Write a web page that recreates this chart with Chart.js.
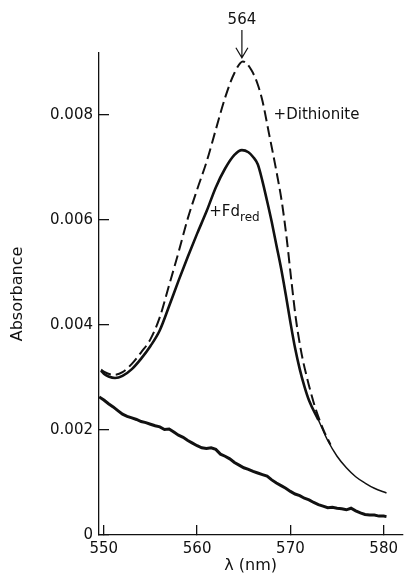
<!DOCTYPE html>
<html>
<head>
<meta charset="utf-8">
<script src="https://cdn.jsdelivr.net/npm/chart.js@4"></script>
<style>
  body { margin: 0; background: #fff; }
  canvas { display: block; }
</style>
</head>
<body>
<canvas id="spectrumChart" width="413" height="576"></canvas>
<script>
// wavelengths (nm) and absorbance
const dithLambda = [549.7, 550, 551, 552, 553, 554, 555, 556, 557, 558, 559, 560, 561, 562, 563, 564, 564.9,
  565.8, 566.5, 567, 567.7, 568.4, 569.1, 569.6, 570.1, 570.6, 571.2, 571.8, 572.5, 573, 573.6, 574.3];
const dithAbs = [0.00315, 0.00311, 0.00305, 0.00310, 0.00326, 0.00348, 0.00373, 0.00415, 0.00476, 0.00538, 0.00603,
  0.00658, 0.00710, 0.00772, 0.00833, 0.00880, 0.00902,
  0.00886, 0.00858, 0.00827, 0.00765, 0.00702, 0.00632, 0.00565, 0.00485, 0.00410, 0.00345, 0.00298, 0.00252,
  0.00225, 0.00198, 0.00172];

const fdLambda = [549.7, 550, 550.5, 551.2, 552, 553, 554, 555, 556, 557, 558, 559, 560, 561, 562, 563, 564, 564.8,
  565.5, 566, 566.5, 567, 567.5, 568, 568.5, 569, 569.5, 570, 570.5, 571, 571.5, 572, 573, 574, 575, 576, 577,
  578, 579, 580.3];
const fdAbs = [0.00313, 0.00307, 0.00302, 0.00299, 0.00303, 0.00316, 0.00336, 0.00360, 0.00390, 0.00436, 0.00484,
  0.00530, 0.00574, 0.00616, 0.00662, 0.00698, 0.00724, 0.00733,
  0.00729, 0.00720, 0.00706, 0.00674, 0.00636, 0.00596, 0.00552, 0.00508, 0.00458, 0.00405, 0.00356, 0.00316,
  0.00283, 0.00256, 0.00219, 0.00180, 0.00150, 0.00128, 0.00111, 0.00099, 0.00089, 0.00080];

const baseLambda = [549.5, 550, 550.5, 551, 551.5, 552, 552.5, 553, 553.5, 554, 554.5, 555, 555.5, 556, 556.5, 557,
  557.5, 558, 558.5, 559, 559.5, 560, 560.5, 561, 561.5, 562, 562.5, 563, 563.5, 564, 564.5, 565, 565.5, 566,
  566.5, 567, 567.5, 568, 568.5, 569, 569.5, 570, 570.5, 571, 571.5, 572, 572.5, 573, 573.5, 574, 574.5, 575,
  575.5, 576, 576.5, 577, 577.5, 578, 578.5, 579, 579.5, 580, 580.3];
const baseAbs = [0.00263, 0.00257, 0.00250, 0.00244, 0.00237, 0.00230, 0.00226, 0.00223, 0.00220, 0.00216, 0.00214,
  0.00211, 0.00208, 0.00206, 0.00201, 0.00202, 0.00196, 0.00190, 0.00186, 0.00180, 0.00175, 0.00170, 0.00166,
  0.00165, 0.00166, 0.00163, 0.00154, 0.00150, 0.00145, 0.00138, 0.00133, 0.00128, 0.00125, 0.00121, 0.00118,
  0.00115, 0.00112, 0.00105, 0.00099, 0.00094, 0.00089, 0.00083, 0.00078, 0.00075, 0.00070, 0.00067, 0.00062,
  0.00058, 0.00055, 0.00052, 0.00053, 0.00051, 0.00050, 0.00048, 0.00051, 0.00046, 0.00042, 0.00039, 0.00038,
  0.00038, 0.00036, 0.00036, 0.00035];

const xTicks = [550, 560, 570, 580];
const yTicks = [0, 0.002, 0.004, 0.006, 0.008];
const yTickLabels = ['0', '0.002', '0.004', '0.006', '0.008'];

const peakLabel = '564';
const peakAt = { x: 564.8, yText: 0.00981, yFrom: 0.00962, yTo: 0.00909 };
const dithLabel = { text: '+Dithionite', x: 568.2, y: 0.0080 };
const fdLabel = { text: '+Fd', sub: 'red', x: 561.3, y: 0.00615 };

const FONT = '"DejaVu Sans", sans-serif';
const INK = '#111';

function toPoints(xs, ys) {
  return xs.map((x, i) => ({ x: x, y: ys[i] }));
}

const annotations = {
  id: 'annotations',
  afterDraw(chart) {
    const ctx = chart.ctx;
    const sx = chart.scales.x, sy = chart.scales.y;
    ctx.save();
    ctx.fillStyle = INK;
    ctx.strokeStyle = INK;
    ctx.font = '15px ' + FONT;

    // peak marker
    const px = sx.getPixelForValue(peakAt.x);
    ctx.textAlign = 'center';
    ctx.textBaseline = 'middle';
    ctx.fillText(peakLabel, px, sy.getPixelForValue(peakAt.yText));
    const y1 = sy.getPixelForValue(peakAt.yFrom), y2 = sy.getPixelForValue(peakAt.yTo);
    ctx.lineWidth = 1.2;
    ctx.beginPath();
    ctx.moveTo(px, y1);
    ctx.lineTo(px, y2);
    ctx.moveTo(px - 6, y2 - 10);
    ctx.lineTo(px, y2);
    ctx.lineTo(px + 6, y2 - 10);
    ctx.stroke();

    // curve labels
    ctx.textAlign = 'left';
    ctx.fillText(dithLabel.text, sx.getPixelForValue(dithLabel.x), sy.getPixelForValue(dithLabel.y));
    const fx = sx.getPixelForValue(fdLabel.x), fy = sy.getPixelForValue(fdLabel.y);
    ctx.fillText(fdLabel.text, fx, fy);
    const w = ctx.measureText(fdLabel.text).width;
    ctx.font = '12px ' + FONT;
    ctx.fillText(fdLabel.sub, fx + w, fy + 6);
    ctx.restore();
  }
};

new Chart(document.getElementById('spectrumChart').getContext('2d'), {
  type: 'line',
  data: {
    datasets: [
      {
        label: '+Dithionite',
        data: toPoints(dithLambda, dithAbs),
        borderColor: INK,
        borderWidth: 2,
        borderDash: [11, 5],
        cubicInterpolationMode: 'monotone',
        pointRadius: 0
      },
      {
        label: '+Fd red',
        data: toPoints(fdLambda, fdAbs),
        borderColor: INK,
        borderWidth: 2.6,
        cubicInterpolationMode: 'monotone',
        pointRadius: 0,
        segment: {
          borderWidth: c => (c.p0.parsed.x >= 573 ? 1.5 : 2.6)
        }
      },
      {
        label: 'baseline',
        data: toPoints(baseLambda, baseAbs),
        borderColor: INK,
        borderWidth: 3,
        tension: 0,
        pointRadius: 0
      }
    ]
  },
  options: {
    responsive: false,
    animation: false,
    layout: { padding: { top: 53, left: 0, right: 0, bottom: 0 } },
    plugins: {
      legend: { display: false },
      tooltip: { enabled: false }
    },
    scales: {
      x: {
        type: 'linear',
        min: 549.48,
        max: 582,
        afterBuildTicks: s => { s.ticks = xTicks.map(v => ({ value: v })); },
        afterFit: s => { s.height = 41; },
        grid: { drawOnChartArea: false, tickLength: -10, color: INK, lineWidth: 1.3 },
        border: { color: INK, width: 1.3 },
        ticks: {
          padding: 15,
          color: INK,
          font: { family: FONT, size: 15 },
          callback: v => String(v)
        },
        title: {
          display: true,
          text: 'λ (nm)',
          color: INK,
          font: { family: FONT, size: 16 },
          padding: { top: 0, bottom: 1 }
        }
      },
      y: {
        min: 0,
        max: 0.00918,
        afterBuildTicks: s => { s.ticks = yTicks.map(v => ({ value: v })); },
        afterFit: s => { s.width = 99; },
        grid: { drawOnChartArea: false, tickLength: -10, color: INK, lineWidth: 1.3 },
        border: { color: INK, width: 1.3 },
        ticks: {
          padding: 16,
          color: INK,
          font: { family: FONT, size: 15 },
          callback: v => yTickLabels[yTicks.indexOf(v)]
        },
        title: {
          display: true,
          text: 'Absorbance',
          color: INK,
          font: { family: FONT, size: 16 },
          padding: { top: 8, bottom: 0 }
        }
      }
    }
  },
  plugins: [annotations]
});
</script>
</body>
</html>
